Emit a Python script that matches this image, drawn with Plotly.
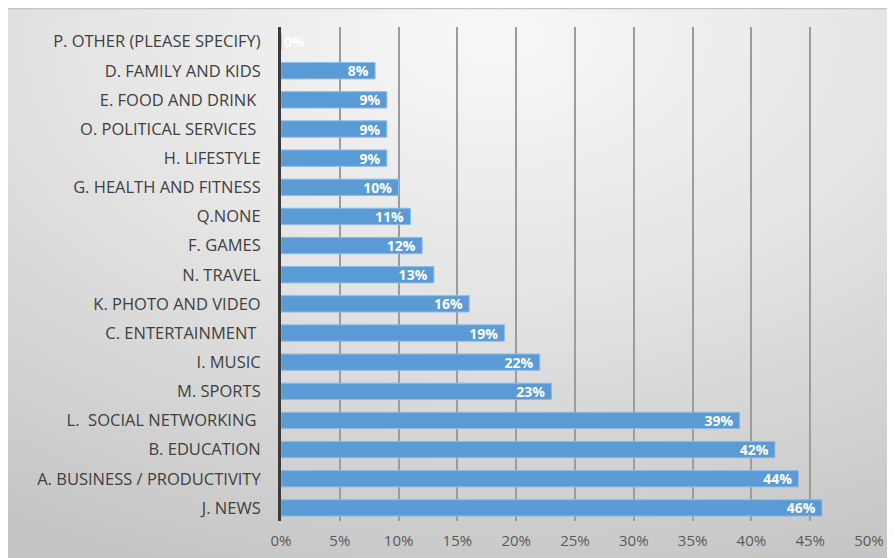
import base64
import plotly.graph_objects as go

# Data (bottom to top)
categories = [
    "J. NEWS",
    "A. BUSINESS / PRODUCTIVITY",
    "B. EDUCATION",
    "L.\u00a0 SOCIAL NETWORKING\u00a0",
    "M. SPORTS",
    "I. MUSIC",
    "C. ENTERTAINMENT\u00a0",
    "K. PHOTO AND VIDEO",
    "N. TRAVEL",
    "F. GAMES",
    "Q.NONE",
    "G. HEALTH AND FITNESS",
    "H. LIFESTYLE",
    "O. POLITICAL SERVICES\u00a0",
    "E. FOOD AND DRINK\u00a0",
    "D. FAMILY AND KIDS",
    "P. OTHER (PLEASE SPECIFY)",
]
values = [46, 44, 42, 39, 23, 22, 19, 16, 13, 12, 11, 10, 9, 9, 9, 8, 0]
tick_vals = [0, 5, 10, 15, 20, 25, 30, 35, 40, 45, 50]
tick_text = [f"{v}%" for v in tick_vals]

labels = [f"{v}%\u00a0" for v in values]
positions = ["outside" if v == 0 else "inside" for v in values]

svg = """<svg xmlns='http://www.w3.org/2000/svg' width='887' height='550' viewBox='0 0 887 550' preserveAspectRatio='none'>
<defs><radialGradient id='g' cx='0.55' cy='0.05' r='1.05' gradientUnits='objectBoundingBox'>
<stop offset='0' stop-color='#f8f8f8'/><stop offset='0.45' stop-color='#e4e4e4'/><stop offset='1' stop-color='#c4c4c4'/></radialGradient></defs>
<rect x='0' y='0' width='887' height='550' fill='url(#g)'/>
<line x1='0' y1='0.5' x2='887' y2='0.5' stroke='#c4c4c4' stroke-width='1.5'/>
</svg>"""
src = "data:image/svg+xml;base64," + base64.b64encode(svg.encode()).decode()

fig = go.Figure()
fig.add_trace(go.Bar(
    y=categories,
    x=values,
    orientation="h",
    width=0.56,
    marker=dict(color="#5b9bd5", line=dict(color="#8dbbe6", width=1)),
    text=labels,
    textposition=positions,
    insidetextanchor="end",
    constraintext="none",
    textfont=dict(family="Open Sans", size=14, color="white", weight="bold"),
    cliponaxis=False,
    hoverinfo="skip",
))

W, H = 887, 550
ml, mr, mt, mb = 273, 26, 19, 37
pw = W - ml - mr
ph = H - mt - mb
fig.add_layout_image(dict(
    source=src, xref="paper", yref="paper",
    x=-ml / pw, y=1 + mt / ph,
    sizex=W / pw, sizey=H / ph,
    xanchor="left", yanchor="top", sizing="stretch", layer="below",
))

fig.update_layout(
    width=W, height=H,
    margin=dict(l=ml, r=mr, t=mt, b=mb),
    paper_bgcolor="white",
    plot_bgcolor="rgba(0,0,0,0)",
    showlegend=False,
)
fig.update_xaxes(
    range=[0, 50], tickvals=tick_vals, ticktext=tick_text,
    showgrid=True, gridcolor="#9c9c9c", gridwidth=1.5,
    zeroline=False, showline=False, ticks="",
    tickfont=dict(family="Open Sans", size=15, color="#595959"),
    ticklabelstandoff=9, fixedrange=True, automargin=False,
)
fig.update_yaxes(
    categoryorder="array", categoryarray=categories,
    showgrid=False, zeroline=False,
    showline=True, linecolor="#3a3a3a", linewidth=3,
    ticks="", ticklabelstandoff=14,
    tickfont=dict(family="Open Sans", size=16.5, color="#404040"),
    range=[-0.45, 16.5], fixedrange=True, automargin=False,
)

fig.write_html("out.html")
